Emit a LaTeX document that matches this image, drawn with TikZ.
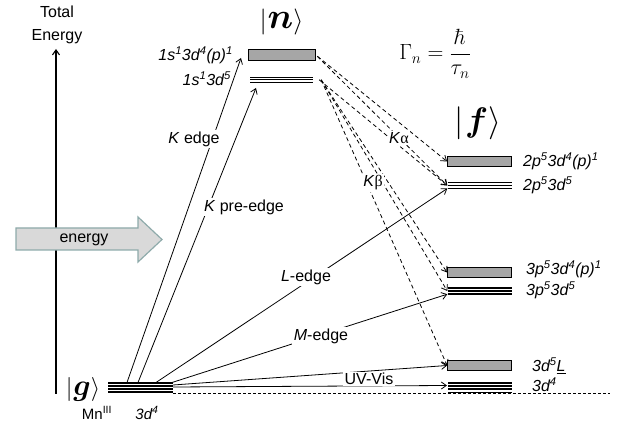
\RequirePackage{fix-cm}
\documentclass[tikz,border=0pt]{standalone}
\usepackage{amsmath}
\usepackage[no-math]{fontspec}
\setmainfont{Liberation Sans}
\newfontfamily\ketfont{Liberation Serif}
\usetikzlibrary{arrows.meta}
\definecolor{boxgray}{HTML}{A6A6A6}
\definecolor{arrfill}{HTML}{D9D9D9}
\definecolor{arredge}{HTML}{8EAAAA}
\newcommand\sps[1]{\textsuperscript{#1}}
\newcommand\myket[3]{{\fontsize{#1}{#1}\selectfont$|$}\kern1pt{\fontsize{#2}{#2}\selectfont$\boldsymbol{#3}$}{\fontsize{#1}{#1}\selectfont$\rangle$}}
\begin{document}
\begin{tikzpicture}[x=1pt,y=-1pt,
  lbl/.style={font=\fontsize{16}{21}\selectfont, inner sep=1pt},
  cfg/.style={font=\fontsize{16}{18}\selectfont\itshape, inner sep=0pt},
  graybox/.style={draw=black, line width=1.3pt, fill=boxgray, inner sep=0pt},
  levelbox/.style={inner sep=0pt},
  lev/.style={line width=1.2pt},
  tip/.style={-{Straight Barb[length=5pt,width=7pt]}},
  solidarr/.style={line width=0.8pt, tip},
  dasharr/.style={line width=0.8pt, dash pattern=on 4pt off 3pt, tip},
  cut/.style={fill=white, inner sep=1.5pt}
]
\useasboundingbox (0,0) rectangle (625,427);

% energy axis
\node[lbl, align=center, font=\fontsize{16}{23}\selectfont] (axtitle) at (57,25) {Total\\Energy};
\coordinate (axbot) at (56,394);
\coordinate (axtop) at (56,49);
\draw[line width=1.1pt, tip] (axbot) -- (axtop);

% energy block arrow
\draw[fill=arrfill, draw=arredge, line width=1.2pt] (16,228) -- (138,228) -- (138,217) -- (162,239.5) -- (138,262) -- (138,250) -- (16,250) -- cycle;
\node[lbl] (energy) at (84,240) {energy};

% kets and formula
\node[inner sep=0pt] (nket) at (281.5,22) {\myket{26}{36}{n}};
\node[inner sep=0pt] (fket) at (478,123) {\myket{33}{34}{f}};
\node[inner sep=0pt] (gket) at (83,390) {\myket{24}{30}{g}};
\node[inner sep=0pt] (gamma) at (435,54) {\fontsize{22}{26}\selectfont$\Gamma_{n}=\dfrac{\hbar}{\tau_{n}}$};

% intermediate states |n>
\node[graybox, minimum width=66.5pt, minimum height=10.5pt] (nG) at (282,55) {};
\node[levelbox, minimum width=63pt, minimum height=5pt] (nT) at (281.5,79.8) {};
\foreach \yy in {77.3,79.8,82.3} \draw[lev] (250,\yy) -- (313,\yy);
\node[cfg, anchor=east] (nGl) at (233,55) {1s\sps{1}3d\sps{4}(p)\sps{1}};
\node[cfg, anchor=east] (nTl) at (231,79) {1s\sps{1}3d\sps{5}};

% final states |f>
\node[graybox, minimum width=63.5pt, minimum height=9.7pt] (f2G) at (479.5,161.5) {};
\node[levelbox, minimum width=64pt, minimum height=5.6pt] (f2T) at (479.5,185.5) {};
\foreach \yy in {182.7,185.5,188.3} \draw[lev] (447.5,\yy) -- (511.5,\yy);
\node[graybox, minimum width=63.5pt, minimum height=9.7pt] (f3G) at (479.5,272.5) {};
\node[levelbox, minimum width=64pt, minimum height=6pt] (f3T) at (479.5,291) {};
\foreach \yy in {288,291,294} \draw[lev] (447.5,\yy) -- (511.5,\yy);
\node[graybox, minimum width=63.5pt, minimum height=9.7pt] (f3dG) at (479.5,365.5) {};
\node[levelbox, minimum width=64pt, minimum height=9.4pt] (f3d4) at (480,387.7) {};
\foreach \yy in {383,386,389,392.3} \draw[lev] (448,\yy) -- (512,\yy);

\node[cfg, anchor=west] (l2G) at (523,161) {2p\sps{5}3d\sps{4}(p)\sps{1}};
\node[cfg, anchor=west] (l2T) at (523,185) {2p\sps{5}3d\sps{5}};
\node[cfg, anchor=west] (l3G) at (526,269) {3p\sps{5}3d\sps{4}(p)\sps{1}};
\node[cfg, anchor=west] (l3T) at (526,290) {3p\sps{5}3d\sps{5}};
\node[cfg, anchor=west] (l3dG) at (532,366) {3d\sps{5}\underline{L}};
\node[cfg, anchor=west] (l3d4) at (532,385) {3d\sps{4}};

% ground state |g>
\node[levelbox, minimum width=65pt, minimum height=9pt] (glev) at (140.5,387.5) {};
\foreach \yy in {383,386,389,392} \draw[lev] (108,\yy) -- (173,\yy);
\node[lbl, font=\fontsize{15}{18}\selectfont] (mn) at (97,413) {Mn\sps{III}};
\node[cfg, font=\fontsize{15}{18}\selectfont\itshape] (g3d) at (147,413) {3d\sps{4}};
\coordinate (baseEnd) at (610,393.5);
\draw[line width=0.8pt, dash pattern=on 3pt off 2pt] (173,393.5) -- (baseEnd);

% absorption arrows
\coordinate (gK) at (127,382.5);
\coordinate (kTip) at (241,58);
\coordinate (gKp) at (138,382.5);
\coordinate (kpTip) at (256,88);
\coordinate (gL) at (156,382.5);
\coordinate (gM) at (172,382.5);
\coordinate (gU1) at (173,385);
\coordinate (gU2) at (173,387);
\coordinate (uvTip) at (447,385.5);
\draw[solidarr] (gK) -- (kTip);
\draw[solidarr] (gKp) -- (kpTip);
\draw[solidarr] (gL) -- (f2T.south west);
\draw[solidarr] (gM) -- (f3T.south west);
\draw[solidarr] (gU1) -- (f3dG.west);
\draw[solidarr] (gU2) -- (uvTip);

% emission arrows
\draw[dasharr, shorten <=2pt] (nG.east) -- (f2G.west);
\draw[dasharr, shorten <=2pt] (nG.east) -- (f2T.west);
\draw[dasharr] ([xshift=6pt]nT.east) -- (f2T.west);
\draw[dasharr] ([xshift=8pt]nT.east) -- (f3G.west);
\draw[dasharr] ([xshift=8pt]nT.east) -- (f3T.west);
\draw[dasharr] ([xshift=8pt]nT.east) -- (f3dG.west);

% transition labels
\node[lbl, cut] (lK) at (194,139) {\textit{K} edge};
\node[lbl, cut] (lKp) at (244,207) {\textit{K} pre-edge};
\node[lbl, cut] (lL) at (306,277) {\textit{L}-edge};
\node[lbl, cut] (lM) at (321,336) {\textit{M}-edge};
\node[lbl, cut] (lUV) at (369,379) {UV-Vis};
\node[lbl, cut] (lKa) at (399,138) {\textit{K}{\ketfont α}};
\node[lbl, cut] (lKb) at (373,183) {\textit{K}{\ketfont β}};
\end{tikzpicture}
\end{document}
